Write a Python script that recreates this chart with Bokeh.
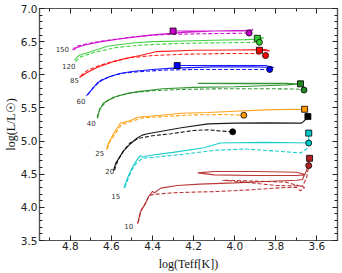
from bokeh.plotting import figure
from bokeh.models import Range1d, SingleIntervalTicker, LinearAxis, NumeralTickFormatter, CustomJSTickFormatter
from bokeh.embed import file_html
from bokeh.resources import INLINE
from bokeh.core.properties import value

# ---------------- data (log Teff, log L) ----------------
masses = ["150", "120", "85", "60", "40", "25", "20", "15", "10"]
colors = ["#cc00cc", "#33cc33", "#ff0000", "#0000ff", "#1f8a1f", "#ff9900", "#000000", "#00c8c8", "#b22222"]

teff_150_solid = [4.785, 4.77, 4.73, 4.65, 4.56, 4.46, 4.37, 4.25, 4.10, 3.95, 3.91, 3.93, 4.10, 4.30]
lum_150_solid = [6.37, 6.41, 6.45, 6.50, 6.54, 6.58, 6.61, 6.64, 6.66, 6.67, 6.68, 6.66, 6.66, 6.66]
teff_150_dash = [4.79, 4.77, 4.70, 4.60, 4.50, 4.40, 4.30, 4.15, 4.00, 3.93]
lum_150_dash = [6.38, 6.43, 6.48, 6.53, 6.57, 6.60, 6.61, 6.62, 6.625, 6.63]

teff_120_solid = [4.78, 4.76, 4.69, 4.62, 4.50, 4.40, 4.25, 4.10, 3.95, 3.87, 3.86, 3.89]
lum_120_solid = [6.22, 6.29, 6.36, 6.43, 6.48, 6.50, 6.51, 6.52, 6.53, 6.54, 6.56, 6.55]
teff_120_dash = [4.775, 4.75, 4.68, 4.58, 4.45, 4.30, 4.15, 4.00, 3.90, 3.88]
lum_120_dash = [6.20, 6.27, 6.34, 6.41, 6.45, 6.47, 6.48, 6.485, 6.49, 6.49]

teff_85_solid = [4.756, 4.72, 4.67, 4.60, 4.53, 4.46, 4.38, 4.20, 4.00, 3.85, 3.83, 3.88]
lum_85_solid = [5.96, 6.03, 6.11, 6.19, 6.25, 6.29, 6.35, 6.37, 6.375, 6.38, 6.36, 6.37]
teff_85_dash = [4.75, 4.72, 4.66, 4.58, 4.50, 4.40, 4.25, 4.05, 3.90, 3.85]
lum_85_dash = [5.98, 6.06, 6.14, 6.21, 6.26, 6.29, 6.31, 6.32, 6.32, 6.29]

teff_60_solid = [4.722, 4.70, 4.668, 4.62, 4.56, 4.50, 4.40, 4.30, 4.10, 3.90, 3.81, 3.85, 4.05, 4.28]
lum_60_solid = [5.68, 5.76, 5.88, 5.96, 6.02, 6.05, 6.08, 6.10, 6.12, 6.12, 6.11, 6.14, 6.14, 6.14]
teff_60_dash = [4.715, 4.69, 4.65, 4.59, 4.53, 4.45, 4.35, 4.20, 4.00, 3.84, 3.83]
lum_60_dash = [5.70, 5.80, 5.92, 5.99, 6.03, 6.05, 6.07, 6.08, 6.08, 6.08, 6.08]

teff_40_solid = [4.668, 4.66, 4.64, 4.59, 4.52, 4.46, 4.35, 4.20, 4.00, 3.75, 3.68, 3.75, 4.00, 4.18, 4.00, 3.80, 3.68]
lum_40_solid = [5.34, 5.45, 5.57, 5.66, 5.72, 5.75, 5.79, 5.81, 5.82, 5.845, 5.86, 5.87, 5.87, 5.87, 5.865, 5.865, 5.864]
teff_40_dash = [4.67, 4.655, 4.62, 4.56, 4.50, 4.40, 4.25, 4.05, 3.85, 3.70, 3.663]
lum_40_dash = [5.36, 5.50, 5.61, 5.69, 5.73, 5.76, 5.78, 5.79, 5.79, 5.785, 5.77]

teff_25_solid = [4.624, 4.615, 4.59, 4.556, 4.507, 4.473, 4.36, 4.26, 4.13, 4.00, 3.85, 3.70, 3.66, 3.655, 3.66]
lum_25_solid = [4.87, 4.96, 5.11, 5.27, 5.31, 5.36, 5.39, 5.42, 5.43, 5.45, 5.47, 5.48, 5.47, 5.52, 5.48]
teff_25_dash = [4.62, 4.61, 4.58, 4.55, 4.50, 4.45, 4.35, 4.20, 4.05, 3.956]
lum_25_dash = [4.88, 4.98, 5.12, 5.25, 5.30, 5.35, 5.37, 5.395, 5.40, 5.39]

teff_20_solid = [4.59, 4.58, 4.556, 4.54, 4.507, 4.473, 4.45, 4.424, 4.26, 4.13, 4.00, 3.85, 3.70, 3.675, 3.66, 3.644]
lum_20_solid = [4.55, 4.66, 4.78, 4.855, 4.96, 5.05, 5.09, 5.11, 5.20, 5.26, 5.27, 5.275, 5.27, 5.27, 5.31, 5.37]
teff_20_dash = [4.585, 4.57, 4.54, 4.51, 4.47, 4.40, 4.31, 4.20, 4.13, 4.06, 4.01]
lum_20_dash = [4.56, 4.70, 4.86, 4.97, 5.04, 5.08, 5.11, 5.16, 5.17, 5.15, 5.14]

teff_15_solid = [4.54, 4.522, 4.507, 4.49, 4.475, 4.46, 4.45, 4.40, 4.30, 4.15, 4.07, 4.00, 3.85, 3.70, 3.64, 3.64]
lum_15_solid = [4.29, 4.44, 4.55, 4.65, 4.72, 4.78, 4.76, 4.79, 4.83, 4.90, 4.97, 4.975, 4.98, 4.975, 4.97, 5.12]
teff_15_dash = [4.535, 4.515, 4.50, 4.48, 4.45, 4.38, 4.25, 4.10, 3.95, 3.80, 3.68, 3.65, 3.64]
lum_15_dash = [4.30, 4.46, 4.57, 4.66, 4.74, 4.76, 4.80, 4.86, 4.88, 4.85, 4.82, 4.88, 4.97]

teff_10_solid = [4.473, 4.459, 4.434, 4.42, 4.40, 4.39, 4.36, 4.28, 4.17, 4.00, 3.85, 3.70, 3.67, 3.66,
                 3.70, 3.90, 4.10, 4.18, 4.10, 3.90, 3.70, 3.66, 3.645, 3.636]
lum_10_solid = [3.75, 3.93, 4.06, 4.16, 4.24, 4.22, 4.29, 4.33, 4.35, 4.37, 4.39, 4.41, 4.42, 4.50,
                4.53, 4.54, 4.54, 4.52, 4.49, 4.48, 4.48, 4.49, 4.60, 4.74]
teff_10_dash = [4.47, 4.455, 4.43, 4.415, 4.39, 4.376, 4.30, 4.20, 4.08, 3.95, 3.85, 3.75, 3.70, 3.68,
                3.66, 3.75, 3.95, 4.06, 3.95, 3.80, 3.67, 3.65, 3.64]
lum_10_dash = [3.77, 3.96, 4.09, 4.18, 4.20, 4.20, 4.22, 4.23, 4.24, 4.26, 4.28, 4.30, 4.30, 4.25,
               4.30, 4.38, 4.40, 4.41, 4.38, 4.33, 4.32, 4.45, 4.63]

label_teff = [4.839, 4.808, 4.780, 4.748, 4.698, 4.657, 4.608, 4.579, 4.516]
label_lum = [6.394, 6.135, 5.920, 5.609, 5.272, 4.824, 4.553, 4.177, 3.713]

solid_tracks = [(teff_150_solid, lum_150_solid), (teff_120_solid, lum_120_solid), (teff_85_solid, lum_85_solid),
                (teff_60_solid, lum_60_solid), (teff_40_solid, lum_40_solid), (teff_25_solid, lum_25_solid),
                (teff_20_solid, lum_20_solid), (teff_15_solid, lum_15_solid), (teff_10_solid, lum_10_solid)]
dash_tracks = [(teff_150_dash, lum_150_dash), (teff_120_dash, lum_120_dash), (teff_85_dash, lum_85_dash),
               (teff_60_dash, lum_60_dash), (teff_40_dash, lum_40_dash), (teff_25_dash, lum_25_dash),
               (teff_20_dash, lum_20_dash), (teff_15_dash, lum_15_dash), (teff_10_dash, lum_10_dash)]

# ---------------- figure ----------------
p = figure(width=342, height=273, x_range=Range1d(4.95, 3.50), y_range=Range1d(3.5, 7.0),
           output_backend="svg", toolbar_location=None,
           min_border_left=39, min_border_right=5, min_border_top=8, min_border_bottom=33)
p.xgrid.visible = False
p.ygrid.visible = False
p.outline_line_color = "#555555"
p.outline_line_width = 1.2
p.background_fill_color = "white"
p.border_fill_color = "white"


def style_axis(ax, show):
    ax.major_tick_in = 5
    ax.major_tick_out = 0
    ax.minor_tick_in = 3
    ax.minor_tick_out = 0
    ax.axis_line_color = "#555555"
    ax.axis_line_width = 1.2
    ax.major_tick_line_color = "#222222"
    ax.minor_tick_line_color = "#222222"
    if show:
        ax.formatter = NumeralTickFormatter(format="0.0")
        ax.major_label_text_font = "DejaVu Sans"
        ax.major_label_text_font_size = "10.5px"
        ax.major_label_text_color = "#222222"
        ax.major_label_standoff = 2
        ax.axis_label_text_font = "Liberation Serif"
        ax.axis_label_text_font_size = "12px"
        ax.axis_label_text_font_style = "normal"
        ax.axis_label_text_color = "#111111"
        ax.axis_label_standoff = 4
    else:
        ax.formatter = CustomJSTickFormatter(code="return ''")
        ax.major_label_standoff = 0


p.xaxis.ticker = SingleIntervalTicker(interval=0.2, num_minor_ticks=2)
p.yaxis.ticker = SingleIntervalTicker(interval=0.5, num_minor_ticks=5)
style_axis(p.xaxis[0], True)
style_axis(p.yaxis[0], True)
p.xaxis.major_label_standoff = 1
p.xaxis.axis_label_standoff = 4
p.yaxis.major_label_standoff = 2
p.yaxis.axis_label_standoff = 0
p.xaxis.axis_label = "log(Teff[K])"
p.yaxis.axis_label = "log(L/L\u2609)"

top = LinearAxis(ticker=SingleIntervalTicker(interval=0.2, num_minor_ticks=2))
right = LinearAxis(ticker=SingleIntervalTicker(interval=0.5, num_minor_ticks=5))
style_axis(top, False)
style_axis(right, False)
p.add_layout(top, "above")
p.add_layout(right, "right")

for (ts, ls), (td, ld), c in zip(solid_tracks, dash_tracks, colors):
    p.line(ts, ls, line_color=c, line_width=1.1, line_alpha=0.9)
    p.line(td, ld, line_color=c, line_width=1.1, line_alpha=0.9, line_dash="4 2")

for (ts, ls), (td, ld), c in zip(solid_tracks, dash_tracks, colors):
    p.scatter([ts[-1]], [ls[-1]], marker="square", size=6, fill_color=c, line_color="black", line_width=0.8)
    p.scatter([td[-1]], [ld[-1]], marker="circle", size=6, fill_color=c, line_color="black", line_width=0.8)

p.text(x=label_teff, y=label_lum, text=masses, text_font=value("DejaVu Sans"), text_font_size="7px",
       text_align="center", text_baseline="middle", text_color="#333333")

open("out.html", "w").write(file_html(p, INLINE))
